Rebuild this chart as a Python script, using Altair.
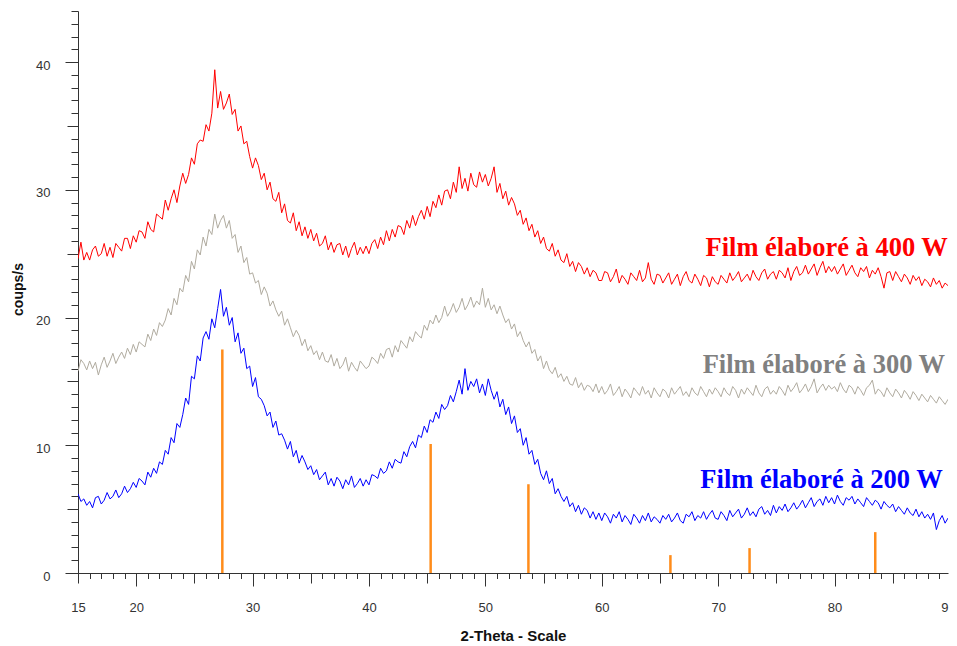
import altair as alt
import pandas as pd

# 2-theta grid of the scan (start and step of the measurement)
two_theta_start = 15.0
two_theta_step = 0.25

counts_400W = [
    24.6, 25.9, 24.5, 25.1, 24.5, 25.3, 25.6, 24.8, 25.0, 25.8, 24.8, 25.5, 24.7, 25.8, 25.5, 25.2, 26.2, 26.2, 25.4, 26.4,
    25.9, 26.8, 26.7, 26.2, 27.5, 26.9, 26.7, 28.1, 27.9, 27.7, 29.2, 28.4, 29.3, 30.0, 29.0, 30.3, 31.3, 30.5, 31.2, 32.5,
    32.0, 33.6, 33.9, 33.8, 35.1, 34.6, 36.0, 39.4, 36.4, 37.7, 36.3, 36.8, 37.5, 35.9, 36.3, 34.6, 35.0, 33.6, 33.8, 32.6,
    31.7, 32.5, 31.9, 30.8, 31.3, 30.0, 30.6, 29.3, 29.1, 29.8, 28.2, 28.9, 27.6, 27.4, 28.2, 26.8, 27.5, 26.4, 27.1, 26.2,
    26.9, 26.0, 26.6, 25.6, 25.8, 26.4, 25.3, 25.9, 25.1, 25.7, 25.8, 24.9, 25.6, 24.7, 25.4, 25.9, 24.9, 25.5, 25.0, 25.6,
    25.0, 25.8, 26.1, 25.4, 26.3, 25.7, 26.8, 26.0, 26.9, 26.3, 27.2, 27.1, 26.5, 27.6, 27.0, 28.0, 27.2, 27.9, 28.4, 27.7,
    28.7, 27.9, 29.1, 28.6, 29.6, 28.8, 29.9, 30.0, 29.3, 30.6, 29.8, 31.8, 30.1, 30.9, 29.9, 31.3, 30.4, 30.2, 31.4, 30.6,
    31.2, 30.3, 30.9, 31.8, 29.8, 30.5, 29.3, 29.9, 28.8, 29.4, 28.9, 28.0, 28.4, 27.3, 27.8, 26.8, 27.3, 26.3, 26.8, 25.8,
    26.3, 25.4, 25.2, 25.8, 24.8, 25.3, 24.5, 24.3, 25.0, 24.0, 24.4, 23.6, 24.3, 24.0, 23.4, 23.9, 23.2, 23.7, 23.5, 22.9,
    22.9, 23.6, 23.5, 22.8, 23.2, 23.8, 22.7, 23.3, 23.0, 22.6, 23.5, 23.2, 22.9, 23.7, 22.8, 23.1, 24.3, 23.0, 22.6, 23.4,
    23.3, 22.7, 23.1, 23.5, 22.6, 23.0, 23.4, 22.5, 23.2, 23.6, 22.9, 22.7, 23.4, 23.0, 22.5, 23.3, 23.1, 22.4, 23.2, 22.8,
    22.6, 23.3, 23.0, 22.7, 23.5, 22.9, 23.2, 23.6, 22.8, 23.1, 23.4, 22.9, 23.7, 23.2, 22.9, 23.5, 23.8, 23.0, 23.4, 23.6,
    23.0, 23.7, 23.5, 23.1, 23.9, 22.9, 23.6, 24.0, 23.3, 23.5, 24.1, 23.4, 23.8, 24.2, 23.3, 23.9, 24.4, 23.5, 24.0, 23.6,
    24.0, 23.4, 23.8, 24.2, 23.3, 23.7, 24.1, 23.5, 23.2, 23.9, 23.6, 24.0, 23.1, 23.7, 23.4, 23.9, 23.2, 22.3, 23.5, 23.6,
    22.9, 23.6, 23.2, 22.8, 23.4, 23.1, 22.6, 23.3, 22.9, 23.2, 22.5, 23.0, 22.8, 22.4, 23.1, 22.6, 22.9, 22.3, 22.7, 22.5,
]

counts_300W = [
    15.8, 16.7, 16.4, 15.9, 16.6, 16.0, 16.5, 15.5, 16.3, 16.9, 16.1, 16.6, 17.2, 16.4, 16.9, 17.3, 16.8, 17.6, 17.1, 17.9,
    17.3, 18.1, 17.9, 17.7, 18.7, 18.2, 19.1, 18.6, 19.6, 19.3, 19.8, 20.7, 20.2, 21.5, 21.0, 22.3, 22.0, 23.3, 22.8, 24.4,
    23.8, 25.3, 24.9, 26.3, 25.6, 26.9, 26.5, 28.1, 27.0, 27.6, 28.0, 27.0, 27.6, 26.2, 26.5, 25.1, 25.6, 24.3, 24.7, 23.4,
    23.5, 22.7, 22.9, 21.8, 22.4, 21.9, 20.9, 21.3, 20.6, 20.1, 20.5, 19.4, 19.9, 19.2, 18.5, 19.0, 18.6, 17.8, 18.3, 17.4,
    17.8, 17.1, 17.4, 16.7, 17.3, 16.6, 16.5, 17.1, 16.2, 16.8, 16.0, 16.3, 16.9, 15.8, 16.5, 16.1, 15.8, 16.6, 16.3, 16.0,
    16.2, 16.9, 16.7, 16.4, 17.2, 16.8, 17.5, 17.6, 16.9, 17.8, 17.3, 18.2, 17.9, 17.6, 18.5, 18.1, 18.9, 18.6, 18.4, 19.4,
    19.0, 19.8, 19.5, 20.2, 19.6, 20.0, 20.9, 20.1, 20.5, 21.1, 20.4, 20.8, 21.5, 20.6, 21.0, 21.6, 20.8, 21.3, 21.0, 22.3,
    20.8, 21.5, 20.6, 21.0, 20.3, 20.9, 20.2, 19.6, 19.9, 19.1, 19.5, 18.5, 18.9, 18.2, 17.7, 18.1, 17.2, 17.5, 16.6, 17.0,
    16.0, 16.6, 15.9, 15.6, 16.1, 15.3, 15.6, 15.0, 15.4, 14.8, 14.7, 15.3, 14.5, 14.9, 14.3, 14.7, 14.6, 14.2, 14.8, 14.1,
    14.6, 14.0, 14.3, 14.8, 13.9, 14.2, 14.6, 13.8, 14.4, 14.1, 13.7, 14.5, 14.2, 13.9, 14.6, 14.0, 14.3, 13.7, 14.5, 14.1,
    13.8, 14.4, 14.2, 13.7, 14.5, 14.0, 14.3, 14.6, 13.9, 14.2, 13.8, 14.5, 14.1, 13.9, 14.6, 14.2, 13.8, 14.4, 14.0, 14.5,
    14.2, 13.8, 14.5, 14.1, 13.9, 14.6, 14.3, 13.7, 14.4, 14.0, 14.5, 14.2, 13.9, 14.7, 14.1, 13.8, 14.4, 14.6, 14.0, 14.3,
    14.0, 14.6, 14.3, 13.9, 14.7, 14.2, 14.5, 14.9, 14.1, 14.4, 14.8, 14.2, 14.6, 15.2, 14.1, 14.5, 14.8, 14.3, 14.7, 14.4,
    14.6, 14.2, 14.9, 14.4, 14.1, 14.7, 14.5, 14.0, 14.6, 14.3, 13.9, 14.5, 14.7, 15.1, 14.0, 14.4, 14.2, 13.8, 14.5, 14.1,
    13.8, 14.4, 14.1, 13.7, 14.3, 14.0, 13.6, 14.2, 13.9, 13.5, 14.0, 13.7, 13.4, 13.9, 13.6, 13.3, 13.8, 13.5, 13.2, 13.6,
]

counts_200W = [
    6.2, 5.6, 5.8, 5.3, 5.6, 5.1, 5.9, 6.0, 5.4, 5.7, 6.3, 5.8, 6.0, 6.5, 5.9, 6.2, 6.8, 6.3, 6.6, 7.1,
    6.7, 7.4, 7.2, 6.9, 7.9, 7.5, 8.2, 7.8, 8.7, 8.5, 9.6, 9.3, 10.6, 10.2, 11.7, 11.4, 12.4, 13.7, 13.2, 15.4,
    15.2, 17.0, 16.6, 18.4, 18.9, 18.3, 19.9, 19.2, 20.7, 22.2, 20.1, 20.8, 19.4, 20.0, 18.1, 18.8, 17.2, 17.6, 16.0, 16.2,
    14.6, 15.3, 13.8, 13.6, 13.1, 12.3, 12.6, 11.4, 11.9, 10.8, 10.9, 10.4, 9.7, 10.3, 9.1, 9.6, 8.6, 9.2, 8.7, 8.1,
    8.4, 7.7, 8.1, 7.3, 7.6, 7.9, 6.9, 7.4, 6.8, 7.5, 7.2, 6.6, 7.3, 6.9, 7.6, 6.7, 7.0, 7.4, 6.8, 7.3,
    6.9, 7.7, 7.6, 7.4, 8.2, 7.8, 8.0, 8.7, 8.2, 8.9, 8.7, 8.6, 9.5, 9.1, 9.9, 10.3, 9.8, 10.8, 10.6, 11.5,
    11.0, 12.0, 11.8, 12.6, 12.1, 13.2, 12.8, 13.1, 13.9, 13.4, 14.2, 15.1, 14.0, 16.0, 14.3, 15.0, 14.6, 15.2, 14.1, 14.8,
    13.9, 15.2, 14.3, 13.6, 14.2, 13.0, 13.6, 12.4, 13.0, 11.7, 12.3, 11.0, 11.3, 10.0, 10.6, 9.3, 9.6, 8.5, 8.9, 7.8,
    7.3, 8.0, 7.0, 7.4, 6.2, 6.6, 6.0, 5.6, 6.0, 5.2, 5.5, 4.8, 5.3, 4.6, 5.1, 4.9, 4.3, 4.8, 4.2, 4.7,
    4.1, 4.7, 4.4, 3.9, 4.6, 4.3, 4.8, 4.0, 4.5, 4.2, 3.8, 4.6, 4.3, 3.9, 4.5, 4.1, 4.7, 4.0, 4.4, 4.2,
    3.9, 4.5, 4.2, 4.6, 4.0, 4.3, 4.7, 4.1, 3.9, 4.6, 4.4, 4.8, 4.1, 4.5, 4.3, 4.8, 4.2, 4.6, 4.9, 4.3,
    4.2, 4.8, 4.5, 4.1, 4.9, 4.4, 4.7, 5.0, 4.3, 4.6, 5.1, 4.5, 4.8, 4.4, 5.0, 5.2, 4.6, 4.9, 4.5, 5.3,
    4.7, 5.2, 4.9, 5.4, 4.8, 5.1, 5.5, 5.0, 5.3, 5.7, 5.1, 5.5, 5.9, 5.2, 5.6, 5.8, 5.3, 6.0, 5.5, 5.9,
    5.4, 6.1, 5.6, 5.3, 5.9, 5.7, 6.0, 5.4, 5.8, 5.5, 5.2, 5.9, 5.6, 5.3, 5.7, 5.5, 5.0, 5.6, 5.3, 5.1,
    5.4, 4.8, 5.2, 4.9, 4.6, 5.1, 4.7, 4.5, 5.0, 4.4, 4.8, 4.3, 4.6, 4.2, 4.7, 3.4, 4.1, 4.5, 3.9, 4.3,
]

# reference pattern lines (orange sticks)
peak_positions = [27.4, 45.3, 53.7, 65.9, 72.7, 83.5]
peak_heights = [17.5, 10.1, 6.95, 1.4, 1.95, 3.2]

series_names = ["Film élaboré à 400 W", "Film élaboré à 300 W", "Film élaboré à 200 W"]
line_colors = ["#ff0000", "#b0ab9f", "#0000ff"]
label_colors = ["#ff0000", "#808080", "#0000ff"]
label_x = [89.74, 89.5, 89.3]
label_y = [24.8, 15.65, 6.65]

x_ticks_major = [20, 30, 40, 50, 60, 70, 80]
x_ticks_mid = [15, 25, 35, 45, 55, 65, 75, 85]
x_ticks_minor = list(range(15, 90))
x_labels = [15, 20, 30, 40, 50, 60, 70, 80, 89.75]
y_ticks_major = [0, 10, 20, 30, 40]
y_ticks_mid = [5, 15, 25, 35]
y_ticks_minor = list(range(0, 45))

# ---- build tables
rows = []
for name, color, vals in zip(series_names, line_colors, [counts_400W, counts_300W, counts_200W]):
    for i, v in enumerate(vals):
        rows.append({"two_theta": two_theta_start + two_theta_step * i, "counts": v,
                     "series": name, "color": color})
df_lines = pd.DataFrame(rows)
df_peaks = pd.DataFrame({"pos": peak_positions, "h": peak_heights})
df_labels = pd.DataFrame({"label": series_names, "lx": label_x, "ly": label_y, "color": label_colors})

xscale = alt.Scale(domain=[15, 89.75], nice=False, zero=False)
yscale = alt.Scale(domain=[0, 44], nice=False, zero=False)

AX = "#333333"
FONT = "Liberation Sans"

x_main_axis = alt.Axis(
    orient="bottom", values=x_labels, format="d",
    labelExpr="datum.value > 89 ? '9' : datum.label",
    labelAlign={"condition": {"test": "datum.value > 89", "value": "right"}, "value": "center"},
    tickSize=13, tickOpacity=0, labelPadding=15, labelFlush=False, labelOverlap=False,
    labelFont=FONT, labelFontSize=13, labelColor=AX,
    domain=True, domainColor=AX, domainWidth=1, grid=False,
    title="2-Theta - Scale", titleFont=FONT, titleFontSize=15, titleFontWeight="bold",
    titleColor="#111111", titleX=435, titleY=67, titleBaseline="alphabetic", titleAlign="center",
)
y_main_axis = alt.Axis(
    orient="left", values=y_ticks_major, format="d",
    tickSize=13, tickColor=AX, labelPadding=15, labelOffset=3,
    labelFont=FONT, labelFontSize=13, labelColor=AX,
    domain=True, domainColor=AX, domainWidth=1, grid=False,
    title="coups/s", titleFont=FONT, titleFontSize=14, titleFontWeight="bold",
    titleColor="#111111", titleX=-60, titleY=278, titleAngle=-90,
    titleBaseline="middle", titleAlign="center",
)

lines = alt.Chart(df_lines).mark_line(strokeWidth=1, clip=True).encode(
    x=alt.X("two_theta:Q", scale=xscale, axis=x_main_axis),
    y=alt.Y("counts:Q", scale=yscale, axis=y_main_axis),
    color=alt.Color("color:N", scale=None),
    detail="series:N",
)

peaks = alt.Chart(df_peaks).mark_rule(color="#ff8c1a", strokeWidth=2.5).encode(
    x=alt.X("pos:Q", scale=xscale, axis=None),
    y=alt.Y("h:Q", scale=yscale, axis=None),
    y2=alt.datum(0),
)


def x_tick_layer(vals, size):
    return alt.Chart(df_peaks).mark_point(opacity=0).encode(
        x=alt.X("pos:Q", scale=xscale, axis=alt.Axis(
            orient="bottom", values=vals, tickSize=size, tickColor=AX, labels=False,
            domain=False, grid=False, title=None)),
        y=alt.Y("h:Q", scale=yscale, axis=None),
    )


def y_tick_layer(vals, size):
    return alt.Chart(df_peaks).mark_point(opacity=0).encode(
        x=alt.X("pos:Q", scale=xscale, axis=None),
        y=alt.Y("h:Q", scale=yscale, axis=alt.Axis(
            orient="left", values=vals, tickSize=size, tickColor=AX, labels=False,
            domain=False, grid=False, title=None)),
    )


texts = alt.Chart(df_labels).mark_text(
    align="right", baseline="alphabetic", font="Liberation Serif",
    fontSize=26.5, fontWeight="bold",
).encode(
    x=alt.X("lx:Q", scale=xscale, axis=None),
    y=alt.Y("ly:Q", scale=yscale, axis=None),
    text="label:N",
    color=alt.Color("color:N", scale=None),
)

chart = alt.layer(
    lines,
    peaks,
    texts,
    x_tick_layer(x_ticks_major, 13),
    x_tick_layer(x_ticks_mid, 10),
    x_tick_layer(x_ticks_minor, 5.5),
    y_tick_layer(y_ticks_mid, 11),
    y_tick_layer(y_ticks_minor, 7),
).resolve_scale(
    x="shared", y="shared"
).resolve_axis(
    x="independent", y="independent"
).properties(
    width=870, height=562,
    autosize=alt.AutoSizeParams(type="none"),
    padding={"left": 70, "top": 3, "right": 1, "bottom": 72},
    background="white",
).configure_view(strokeWidth=0)

chart.save("out.html", embed_options={"renderer": "svg", "actions": False})
